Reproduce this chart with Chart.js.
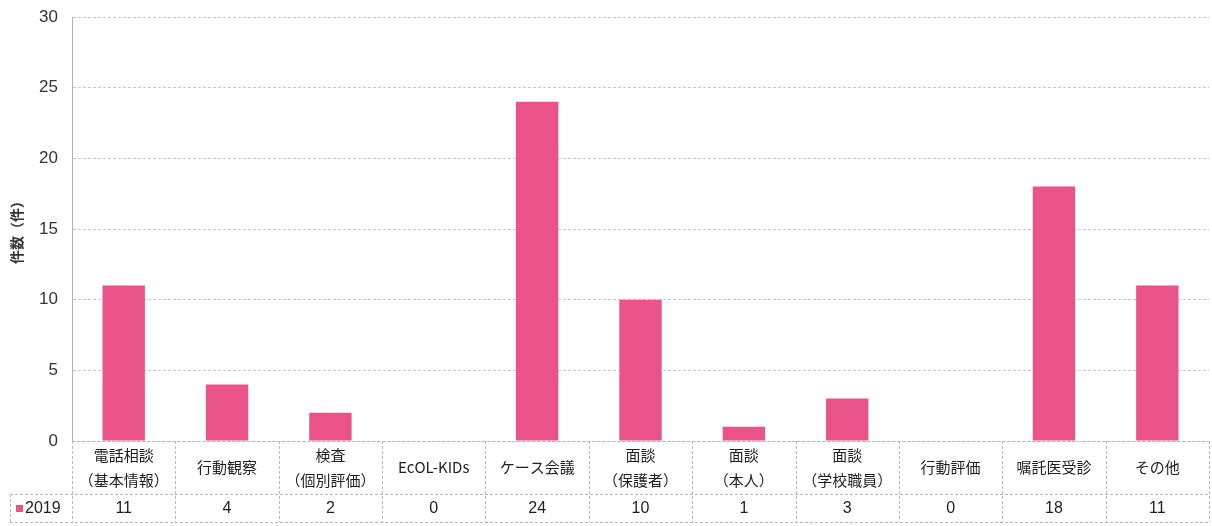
<!DOCTYPE html>
<html><head><meta charset="utf-8">
<script src="https://cdn.jsdelivr.net/npm/chart.js@4"></script>
<style>html,body{margin:0;padding:0;background:#fff}#wrap{width:1212px;height:526px}</style>
</head><body><div id="wrap"><canvas id="c" width="1212" height="526"></canvas></div>
<script>
const categories = [
  ["電話相談","（基本情報）"],
  ["行動観察"],
  ["検査","（個別評価）"],
  ["EcOL-KIDs"],
  ["ケース会議"],
  ["面談","（保護者）"],
  ["面談","（本人）"],
  ["面談","（学校職員）"],
  ["行動評価"],
  ["嘱託医受診"],
  ["その他"]
];
const seriesName = "2019";
const values2019 = [11, 4, 2, 0, 24, 10, 1, 3, 0, 18, 11];
const yTicks = [0, 5, 10, 15, 20, 25, 30];

const barColor = '#e9538a';
const font = '"Noto Sans CJK JP", "Noto Sans", sans-serif';
const numFont = '"Liberation Sans Narrow", "Liberation Sans", sans-serif';

const tablePlugin = {
  id: 'dataTable',
  afterDraw(chart) {
    const ctx = chart.ctx;
    const xs = chart.scales.x;
    const area = chart.chartArea;
    const n = categories.length;
    const step = (xs.right - xs.left) / n;
    const top = area.bottom;
    const midY = top + 53;
    const bot = midY + 28;
    const legL = 10;
    ctx.save();
    ctx.strokeStyle = '#b8b8b8';
    ctx.lineWidth = 1;
    ctx.setLineDash([3, 2]);
    ctx.beginPath();
    ctx.moveTo(xs.left, Math.round(top) + 0.5); ctx.lineTo(xs.right, Math.round(top) + 0.5);
    ctx.moveTo(legL, Math.round(midY) + 0.5); ctx.lineTo(xs.right, Math.round(midY) + 0.5);
    ctx.moveTo(legL, Math.round(bot) + 0.5); ctx.lineTo(xs.right, Math.round(bot) + 0.5);
    for (let i = 0; i <= n; i++) {
      const x = Math.round(xs.left + i * step) + 0.5;
      ctx.moveTo(x, top); ctx.lineTo(x, bot);
    }
    ctx.moveTo(legL + 0.5, midY); ctx.lineTo(legL + 0.5, bot);
    ctx.stroke();
    ctx.setLineDash([]);
    ctx.fillStyle = '#1e1e1e';
    ctx.font = '15px ' + font;
    ctx.textAlign = 'center';
    ctx.textBaseline = 'middle';
    const lh = 25;
    categories.forEach((lines, i) => {
      const cx = xs.getPixelForValue(i);
      const cy = (top + midY) / 2;
      const y0 = cy - (lines.length - 1) * lh / 2;
      lines.forEach((t, j) => ctx.fillText(t, cx, y0 + j * lh));
    });
    ctx.font = '16px ' + numFont;
    values2019.forEach((v, i) => {
      const cx = xs.getPixelForValue(i);
      ctx.fillText(String(v), cx, (midY + bot) / 2 + 1);
    });
    ctx.fillStyle = barColor;
    ctx.fillRect(16, (midY + bot) / 2 - 3, 7, 7);
    ctx.fillStyle = '#1e1e1e';
    ctx.textAlign = 'left';
    ctx.fillText(seriesName, 25, (midY + bot) / 2 + 1);
    ctx.restore();
  }
};

new Chart(document.getElementById('c'), {
  type: 'bar',
  data: {
    labels: categories.map(c => c.join('')),
    datasets: [{
      label: seriesName,
      data: values2019,
      backgroundColor: barColor,
      borderWidth: 0,
      barPercentage: 0.41,
      categoryPercentage: 1.0
    }]
  },
  options: {
    responsive: false,
    animation: false,
    layout: { padding: { top: 17, right: 3, bottom: 77, left: 0 } },
    plugins: { legend: { display: false }, tooltip: { enabled: false } },
    scales: {
      x: {
        ticks: { display: false },
        grid: { display: false },
        border: { display: false }
      },
      y: {
        min: 0, max: 30,
        afterBuildTicks(scale) { scale.ticks = yTicks.map(v => ({ value: v })); },
        afterFit(scale) { scale.width = 72; scale.paddingTop = 0; scale.paddingBottom = 0; },
        ticks: { color: '#333', font: { size: 17, family: numFont }, padding: 14 },
        grid: { color: '#c8c8c8', drawTicks: false },
        border: { display: true, color: '#b0b0b0', dash: [3, 2] },
        title: { display: true, text: '件数（件）', color: '#333', font: { size: 14, family: font, weight: 'bold' }, padding: { top: 8, bottom: 0 } }
      }
    }
  },
  plugins: [tablePlugin, {
    id: 'dashGrid',
    beforeDraw(chart) {
      chart.scales.y.options.grid.borderDash = [3, 2];
    }
  }]
});
</script>
</body></html>
